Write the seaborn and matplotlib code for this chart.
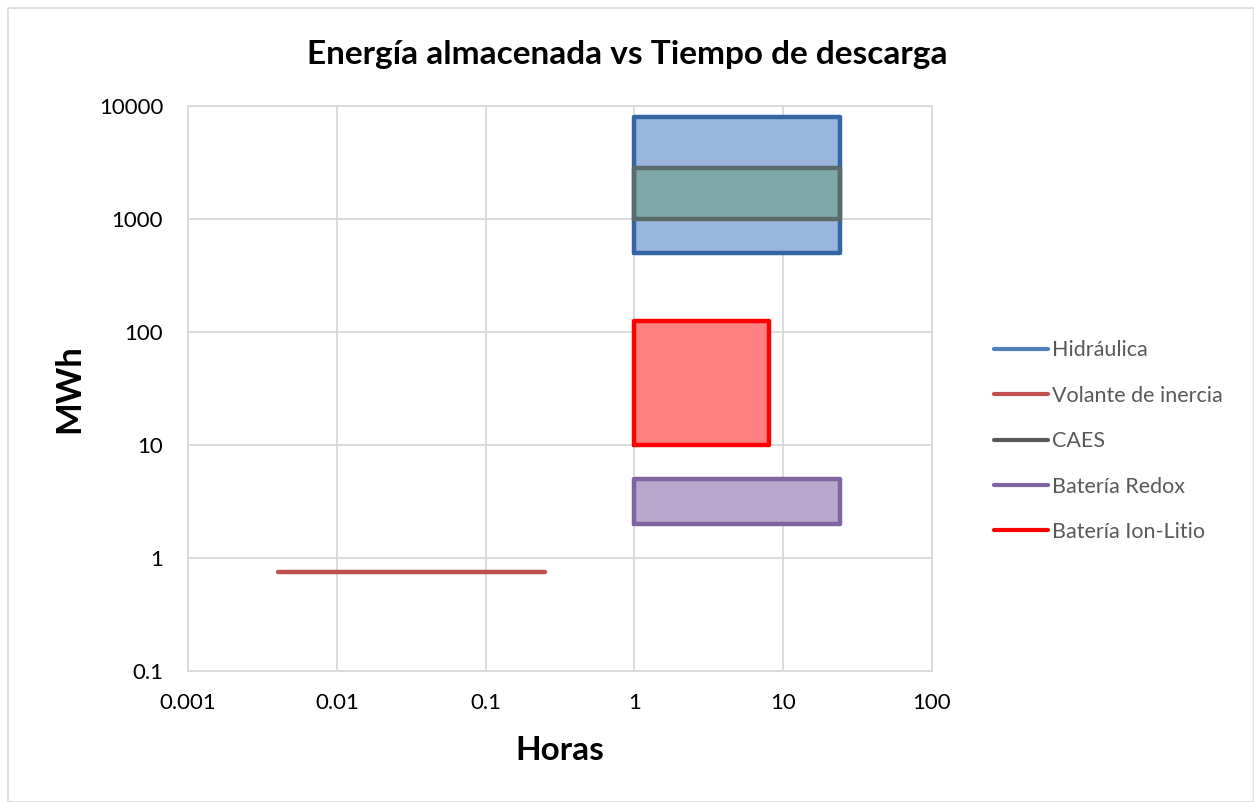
import pandas as pd
import matplotlib.pyplot as plt
import matplotlib.patches as mpatches
from matplotlib.lines import Line2D
from matplotlib.ticker import FixedLocator, FixedFormatter, NullLocator
import seaborn as sns

# rangos de cada tecnologia: horas (min, max) y MWh (min, max)
tecnologias = ["Hidráulica", "Volante de inercia", "CAES", "Batería Redox", "Batería Ion-Litio"]
horas_min = [1, 0.004, 1, 1, 1]
horas_max = [24, 0.25, 24, 24, 8]
mwh_min = [500, 0.75, 1000, 2, 10]
mwh_max = [8000, 0.75, 2800, 5, 125]
bordes = ["#3465a4", "#c0504d", "#5a6b6b", "#8064a2", "#ff0000"]
rellenos = ["#9bb6dd", None, "#80a8ab", "#b8a8cb", "#ff8080"]
leyenda_colores = ["#4f81bd", "#c0504d", "#595959", "#8064a2", "#ff0000"]
orden = [0, 2, 3, 4, 1]

xticks = [0.001, 0.01, 0.1, 1, 10, 100]
xlabels = ["0.001", "0.01", "0.1", "1", "10", "100"]
yticks = [0.1, 1, 10, 100, 1000, 10000]
ylabels = ["0.1", "1", "10", "100", "1000", "10000"]

sns.set_style("white")
plt.rcParams["font.family"] = ["Lato", "DejaVu Sans"]
plt.rcParams["text.color"] = "black"
plt.rcParams["axes.labelcolor"] = "black"

fig = plt.figure(figsize=(12.54, 8.02), dpi=100)
ax = fig.add_axes([0.15, 0.163, 0.593, 0.705])

for i in orden:
    x0, x1, y0, y1 = horas_min[i], horas_max[i], mwh_min[i], mwh_max[i]
    if y0 == y1:
        df = pd.DataFrame({"h": [x0, x1], "e": [y0, y1]})
    else:
        df = pd.DataFrame({"h": [x0, x1, x1, x0, x0], "e": [y0, y0, y1, y1, y0]})
        ax.fill(df["h"], df["e"], color=rellenos[i], zorder=2, lw=0)
    sns.lineplot(data=df, x="h", y="e", sort=False, estimator=None, color=bordes[i], lw=3.2,
                 solid_capstyle="round", solid_joinstyle="round", ax=ax, zorder=3)

ax.set_xscale("log")
ax.set_yscale("log")
ax.set_xlim(0.001, 100)
ax.set_ylim(0.1, 10000)
ax.xaxis.set_major_locator(FixedLocator(xticks))
ax.xaxis.set_major_formatter(FixedFormatter(xlabels))
ax.yaxis.set_major_locator(FixedLocator(yticks))
ax.yaxis.set_major_formatter(FixedFormatter(ylabels))
ax.xaxis.set_minor_locator(NullLocator())
ax.yaxis.set_minor_locator(NullLocator())
ax.grid(True, color="#d9d9d9", lw=1.3, zorder=0)
ax.set_axisbelow(True)
for s in ax.spines.values():
    s.set_color("#d9d9d9")
    s.set_linewidth(1.3)
ax.tick_params(axis="both", length=0, labelsize=16, colors="black")
ax.tick_params(axis="y", pad=18)
ax.tick_params(axis="x", pad=16)

ax.set_xlabel("Horas", fontsize=24, fontweight="bold", labelpad=16)
ax.set_ylabel("MWh", fontsize=25, fontweight="bold", labelpad=10)
fig.text(0.5, 0.932, "Energía almacenada vs Tiempo de descarga", ha="center", va="center",
         fontsize=24, fontweight="bold")

handles = [Line2D([0], [0], color=leyenda_colores[i], lw=3) for i in range(len(tecnologias))]
fig.legend(handles, tecnologias, loc="center left", bbox_to_anchor=(0.777, 0.45),
           frameon=False, fontsize=15.5, labelcolor="#595959", handlelength=2.5,
           handletextpad=0.2, labelspacing=1.18)

fig.patches.append(mpatches.Rectangle((0.006, 0.0), 0.994, 0.99, transform=fig.transFigure,
                                      fill=False, edgecolor="#d9d9d9", lw=1.2))

fig.savefig("out.png", dpi=100)
